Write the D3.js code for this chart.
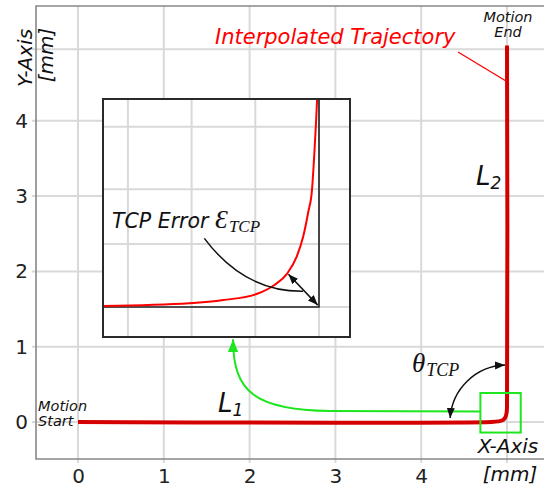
<!DOCTYPE html>
<html>
<head>
<meta charset="utf-8">
<script src="https://cdn.jsdelivr.net/npm/d3@7"></script>
<style>
body { margin: 0; background: #fff; }
svg { display: block; font-family: "DejaVu Sans", sans-serif; }
</style>
</head>
<body>
<div id="chart"></div>
<script>
var width = 544;
var height = 490;

// axis ticks and grid
var xTicks = [0, 1, 2, 3, 4];
var yTicks = [0, 1, 2, 3, 4];
var xGrid = [0, 1, 2, 3, 4, 5];
var yGrid = [0, 1, 2, 3, 4, 4.95];

// interpolated trajectory (mm)
var trajX = [0, 4.82, 4.90, 4.95, 4.98, 4.995, 5.0, 5.0];
var trajY = [0, 0.0, 0.008, 0.025, 0.06, 0.12, 0.2, 5.0];

// zoom box around the corner (mm)
var zoomBoxX = [4.69, 5.16];
var zoomBoxY = [-0.14, 0.385];

// inset (zoomed) curve, inset units
var insetX = [-3.39, -2.03, -1.5, -0.97, -0.7, -0.5, -0.35, -0.25, -0.17, -0.11, -0.075, -0.047, -0.03];
var insetY = [0.016, 0.06, 0.11, 0.21, 0.35, 0.53, 0.80, 1.11, 1.50, 1.86, 2.40, 2.92, 3.29];
var insetGridX = [-3, -2, -1, 0];
var insetGridY = [0, 1, 1.87, 2.86];

var frame = { left: 36, right: 544, top: 6, bottom: 459 };

var xScale = d3.scaleLinear().domain([0, 5]).range([78, 507]);
var yScale = d3.scaleLinear().domain([0, 5]).range([422, 45.5]);

var svg = d3.select("#chart").append("svg")
    .attr("width", width)
    .attr("height", height);

var defs = svg.append("defs");
function marker(id, color, size) {
    defs.append("marker")
        .attr("id", id)
        .attr("viewBox", "0 0 10 10")
        .attr("refX", 10).attr("refY", 5)
        .attr("markerWidth", size).attr("markerHeight", size)
        .attr("markerUnits", "userSpaceOnUse")
        .attr("orient", "auto-start-reverse")
        .append("path")
        .attr("d", "M0,1 L10,5 L0,9 z")
        .attr("fill", color);
}
marker("arrowBlack", "#111", 10);
marker("arrowGreen", "#1ee61e", 13);

// ----- main grid ----- //
var grid = svg.append("g").attr("stroke", "#d9d9d9").attr("stroke-width", 2);
grid.selectAll(".vgrid").data(xGrid).enter().append("line")
    .attr("x1", function(d) { return xScale(d); })
    .attr("x2", function(d) { return xScale(d); })
    .attr("y1", frame.top).attr("y2", frame.bottom + 4);
grid.selectAll(".hgrid").data(yGrid).enter().append("line")
    .attr("x1", frame.left - 4).attr("x2", frame.right)
    .attr("y1", function(d) { return yScale(d); })
    .attr("y2", function(d) { return yScale(d); });

// frame
svg.append("path")
    .attr("d", "M" + frame.right + "," + frame.top + "H" + frame.left + "V" + frame.bottom + "H" + frame.right)
    .attr("stroke", "#888").attr("stroke-width", 1.6).attr("fill", "none");

// tick labels
var xAxis = svg.append("g")
    .attr("transform", "translate(0," + frame.bottom + ")")
    .call(d3.axisBottom(xScale).tickValues(xTicks).tickFormat(d3.format("d")).tickSize(0).tickPadding(10));
var yAxis = svg.append("g")
    .attr("transform", "translate(" + frame.left + ",0)")
    .call(d3.axisLeft(yScale).tickValues(yTicks).tickFormat(d3.format("d")).tickSize(0).tickPadding(8));
[xAxis, yAxis].forEach(function(a) {
    a.select(".domain").remove();
    a.selectAll("text").attr("font-size", 20).attr("fill", "#222")
        .attr("font-family", "DejaVu Sans, sans-serif");
});

// ----- inset ----- //
var ix = d3.scaleLinear().domain([-3, 0]).range([127.9, 319]);
var iy = d3.scaleLinear().domain([0, 1]).range([307, 244]);
var inset = { left: 103, right: 350, top: 99, bottom: 337 };

defs.append("clipPath").attr("id", "insetClip").append("rect")
    .attr("x", inset.left).attr("y", inset.top)
    .attr("width", inset.right - inset.left).attr("height", inset.bottom - inset.top);

var insetG = svg.append("g");
insetG.append("rect")
    .attr("x", inset.left).attr("y", inset.top)
    .attr("width", inset.right - inset.left).attr("height", inset.bottom - inset.top)
    .attr("fill", "#fff");
var ig = insetG.append("g").attr("clip-path", "url(#insetClip)")
    .attr("stroke", "#d9d9d9").attr("stroke-width", 2);
ig.selectAll(".ivg").data(insetGridX).enter().append("line")
    .attr("x1", function(d) { return ix(d); }).attr("x2", function(d) { return ix(d); })
    .attr("y1", inset.top).attr("y2", inset.bottom);
ig.selectAll(".ihg").data(insetGridY).enter().append("line")
    .attr("y1", function(d) { return iy(d); }).attr("y2", function(d) { return iy(d); })
    .attr("x1", inset.left).attr("x2", inset.right);

// ideal corner
insetG.append("path")
    .attr("d", "M" + inset.left + "," + iy(0) + "H" + ix(0) + "V" + inset.top)
    .attr("fill", "none").attr("stroke", "#222").attr("stroke-width", 1.6);

// interpolated curve in inset
var insetPts = insetX.map(function(d, i) { return [d, insetY[i]]; });
var insetLine = d3.line()
    .x(function(d) { return ix(d[0]); })
    .y(function(d) { return iy(d[1]); })
    .curve(d3.curveMonotoneX);
insetG.append("path")
    .attr("clip-path", "url(#insetClip)")
    .attr("d", insetLine(insetPts))
    .attr("fill", "none").attr("stroke", "#ff0000").attr("stroke-width", 2);

insetG.append("rect")
    .attr("x", inset.left).attr("y", inset.top)
    .attr("width", inset.right - inset.left).attr("height", inset.bottom - inset.top)
    .attr("fill", "none").attr("stroke", "#2a2a2a").attr("stroke-width", 2);

// TCP error arrow
insetG.append("line")
    .attr("x1", ix(-0.02)).attr("y1", iy(0.03))
    .attr("x2", ix(-0.48)).attr("y2", iy(0.52))
    .attr("stroke", "#111").attr("stroke-width", 1.5)
    .attr("marker-start", "url(#arrowBlack)")
    .attr("marker-end", "url(#arrowBlack)");

var p = d3.path();
p.moveTo(ix(-1.8), iy(1.09));
p.quadraticCurveTo(ix(-1.17), iy(0.24), ix(-0.25), iy(0.25));
insetG.append("path").attr("d", p.toString())
    .attr("fill", "none").attr("stroke", "#111").attr("stroke-width", 1.5);

var errText = insetG.append("text")
    .attr("x", 112).attr("y", 228)
    .attr("fill", "#111");
errText.append("tspan").text("TCP Error ")
    .attr("font-size", 20.5).attr("font-style", "italic");
errText.append("tspan").text("\u0190")
    .attr("font-family", "Liberation Serif, serif")
    .attr("font-style", "italic").attr("font-size", 26);
errText.append("tspan").text("TCP")
    .attr("font-family", "Liberation Serif, serif")
    .attr("font-style", "italic").attr("font-size", 17)
    .attr("dx", 1).attr("dy", 4);

// ----- main trajectory ----- //
var trajPts = trajX.map(function(d, i) { return [d, trajY[i]]; });
var line1 = d3.line()
    .x(function(d) { return xScale(d[0]); })
    .y(function(d) { return yScale(d[1]); })
    .curve(d3.curveCatmullRom);
svg.append("path")
    .attr("d", line1(trajPts))
    .attr("fill", "none")
    .attr("stroke", "#d40000")
    .attr("stroke-width", 4);

// zoom box
svg.append("rect")
    .attr("x", xScale(zoomBoxX[0])).attr("y", yScale(zoomBoxY[1]))
    .attr("width", xScale(zoomBoxX[1]) - xScale(zoomBoxX[0]))
    .attr("height", yScale(zoomBoxY[0]) - yScale(zoomBoxY[1]))
    .attr("fill", "none").attr("stroke", "#1ee61e").attr("stroke-width", 2);

// connector from zoom box to inset
var g = d3.path();
g.moveTo(xScale(zoomBoxX[0]), yScale(0.139));
g.lineTo(xScale(2.937), yScale(0.146));
g.bezierCurveTo(xScale(2.063), yScale(0.159), xScale(1.807), yScale(0.398), xScale(1.807), yScale(1.10));
svg.append("path").attr("d", g.toString())
    .attr("fill", "none").attr("stroke", "#1ee61e").attr("stroke-width", 2)
    .attr("marker-end", "url(#arrowGreen)");

// theta arc
var cx = xScale(5), cy = yScale(0), r = 57;
var a0 = 184 * Math.PI / 180, a1 = 268 * Math.PI / 180;
svg.append("path")
    .attr("d", "M" + (cx + r * Math.cos(a0)) + "," + (cy + r * Math.sin(a0)) +
        "A" + r + "," + r + " 0 0 1 " + (cx + r * Math.cos(a1)) + "," + (cy + r * Math.sin(a1)))
    .attr("fill", "none").attr("stroke", "#111").attr("stroke-width", 1.5)
    .attr("marker-start", "url(#arrowBlack)")
    .attr("marker-end", "url(#arrowBlack)");

var theta = svg.append("text").attr("x", 412).attr("y", 372).attr("fill", "#111")
    .attr("font-family", "Liberation Serif, serif").attr("font-style", "italic");
theta.append("tspan").text("\u03b8").attr("font-size", 27);
theta.append("tspan").text("TCP").attr("font-size", 18).attr("dx", 1).attr("dy", 4);

// leader for trajectory label
svg.append("line")
    .attr("x1", xScale(4.429)).attr("y1", yScale(4.914))
    .attr("x2", xScale(4.988)).attr("y2", yScale(4.529))
    .attr("stroke", "#ff0000").attr("stroke-width", 1.3);

svg.append("text")
    .attr("x", 215).attr("y", 44)
    .attr("font-size", 21).attr("font-style", "italic")
    .attr("fill", "#ff0000")
    .text("Interpolated Trajectory");

// motion start / end labels
var small = [
    { t: "Motion", x: 508, y: 22, anchor: "middle" },
    { t: "End", x: 508, y: 37, anchor: "middle" },
    { t: "Motion", x: 38, y: 411, anchor: "start" },
    { t: "Start", x: 38, y: 426, anchor: "start" }
];
svg.selectAll(".small").data(small).enter().append("text")
    .attr("x", function(d) { return d.x; })
    .attr("y", function(d) { return d.y; })
    .attr("text-anchor", function(d) { return d.anchor; })
    .attr("font-size", 14.5).attr("font-style", "italic").attr("fill", "#111")
    .text(function(d) { return d.t; });

// segment labels
function segLabel(x, y, sub) {
    var t = svg.append("text").attr("x", x).attr("y", y)
        .attr("font-style", "italic").attr("fill", "#111");
    t.append("tspan").text("L").attr("font-size", 26);
    t.append("tspan").text(sub).attr("font-size", 17).attr("dy", 4);
}
segLabel(218, 412, "1");
segLabel(476, 185, "2");

// axis titles
svg.append("text").attr("x", 508).attr("y", 453)
    .attr("text-anchor", "middle").attr("font-size", 20).attr("font-style", "italic").attr("fill", "#111")
    .text("X-Axis");
svg.append("text").attr("x", 510).attr("y", 481)
    .attr("text-anchor", "middle").attr("font-size", 20).attr("font-style", "italic").attr("fill", "#111")
    .text("[mm]");
svg.append("text").attr("transform", "translate(32,58) rotate(-90)")
    .attr("text-anchor", "middle").attr("font-size", 20).attr("font-style", "italic").attr("fill", "#111")
    .text("Y-Axis");
svg.append("text").attr("transform", "translate(53,55) rotate(-90)")
    .attr("text-anchor", "middle").attr("font-size", 20).attr("font-style", "italic").attr("fill", "#111")
    .text("[mm]");
</script>
</body>
</html>
